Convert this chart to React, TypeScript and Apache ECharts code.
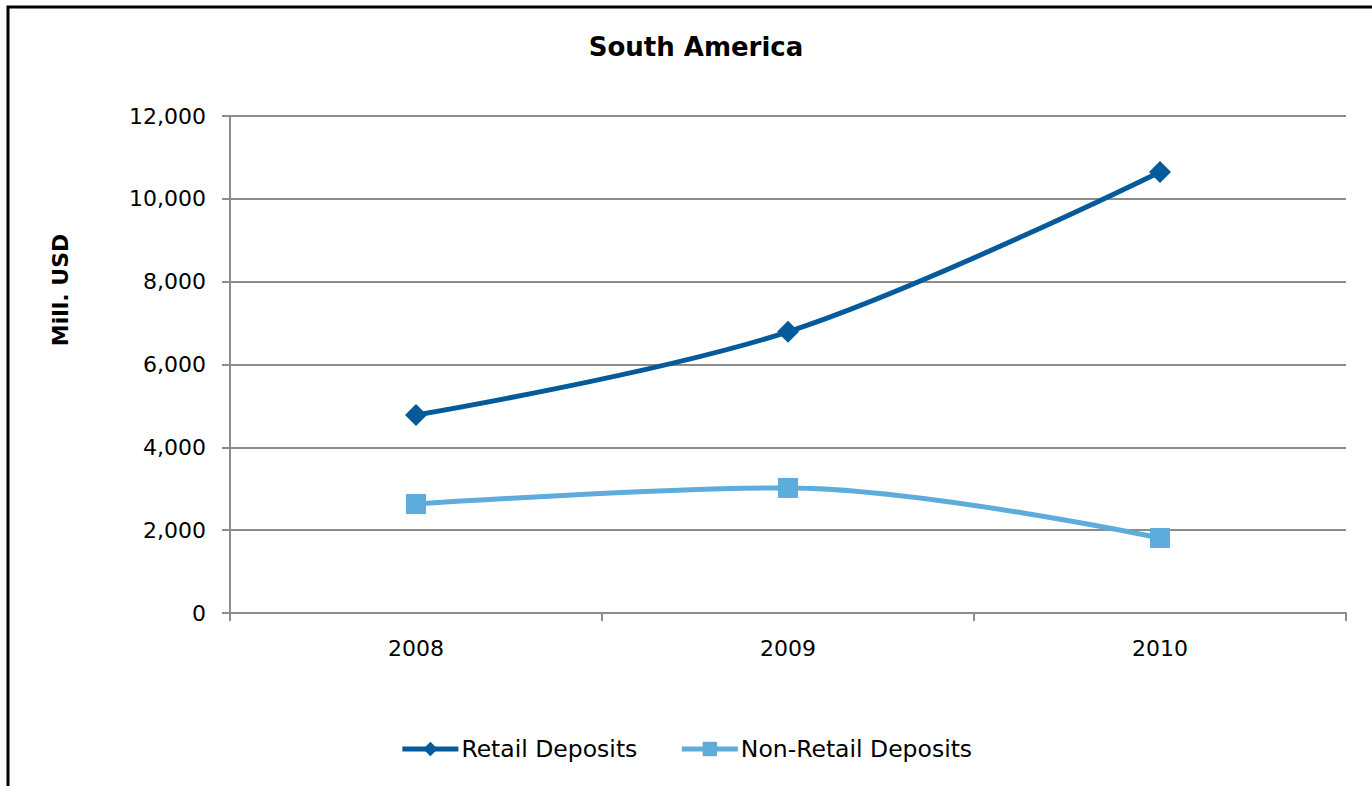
import React, { useEffect, useRef } from "react";
import * as echarts from "echarts";

const categories = ["2008", "2009", "2010"];
const retailDeposits = [4780, 6790, 10650];
const nonRetailDeposits = [2630, 3020, 1810];
const seriesNames = ["Retail Deposits", "Non-Retail Deposits"];
const titleText = "South America";
const yAxisName = "Mill. USD";

const FONT = "'DejaVu Sans', sans-serif";

export default function App() {
  const ref = useRef<HTMLDivElement>(null);
  useEffect(() => {
    if (!ref.current) return;
    const chart = echarts.init(ref.current, null, { renderer: "svg" });
    chart.setOption({
      animation: false,
      backgroundColor: "#ffffff",
      title: {
        text: titleText,
        left: 691,
        top: 29,
        textAlign: "center",
        textStyle: { fontFamily: FONT, fontSize: 26, fontWeight: "bold", color: "#000" },
      },
      legend: {
        bottom: 20,
        left: "center",
        itemWidth: 56,
        itemHeight: 18,
        itemGap: 42,
        lineStyle: { width: 5 },
        textStyle: { fontFamily: FONT, fontSize: 23.5, color: "#000", padding: [0, 0, 0, -2] },
        data: seriesNames,
      },
      grid: { left: 230, right: 26, top: 116, bottom: 173 },
      xAxis: {
        type: "category",
        data: categories,
        boundaryGap: true,
        axisLine: { lineStyle: { color: "#8c8c8c", width: 2 } },
        axisTick: { show: true, length: 8, lineStyle: { color: "#8c8c8c", width: 2 } },
        axisLabel: { fontFamily: FONT, fontSize: 22, color: "#000", margin: 24 },
      },
      yAxis: {
        type: "value",
        min: 0,
        max: 12000,
        interval: 2000,
        axisLine: { show: true, lineStyle: { color: "#8c8c8c", width: 2 } },
        axisTick: { show: true, length: 8, lineStyle: { color: "#8c8c8c", width: 2 } },
        splitLine: { lineStyle: { color: "#8c8c8c", width: 2 } },
        axisLabel: {
          fontFamily: FONT,
          fontSize: 22,
          color: "#000",
          margin: 24,
          formatter: (v: number) => v.toLocaleString("en-US"),
        },
      },
      graphic: [
        {
          type: "rect",
          shape: { x: 8, y: 7, width: 1500, height: 900 },
          style: { fill: "none", stroke: "#000", lineWidth: 3 },
          silent: true,
        },
        {
          type: "text",
          x: 60,
          y: 290,
          rotation: Math.PI / 2,
          style: {
            text: yAxisName,
            fontFamily: FONT,
            fontSize: 22,
            fontWeight: "bold",
            fill: "#000",
            align: "center",
            verticalAlign: "middle",
          },
        },
      ],
      series: [
        {
          name: seriesNames[0],
          type: "line",
          data: retailDeposits,
          smooth: 0.35,
          symbol: "diamond",
          symbolSize: 22,
          lineStyle: { color: "#045a9a", width: 5 },
          itemStyle: { color: "#045a9a" },
        },
        {
          name: seriesNames[1],
          type: "line",
          data: nonRetailDeposits,
          smooth: 0.35,
          symbol: "rect",
          symbolSize: 20,
          lineStyle: { color: "#5dacdc", width: 5 },
          itemStyle: { color: "#5dacdc" },
        },
      ],
    });
    return () => chart.dispose();
  }, []);
  return (
    <div
      ref={ref}
      style={{ position: "fixed", left: 0, top: 0, width: 1372, height: 786 }}
    />
  );
}
